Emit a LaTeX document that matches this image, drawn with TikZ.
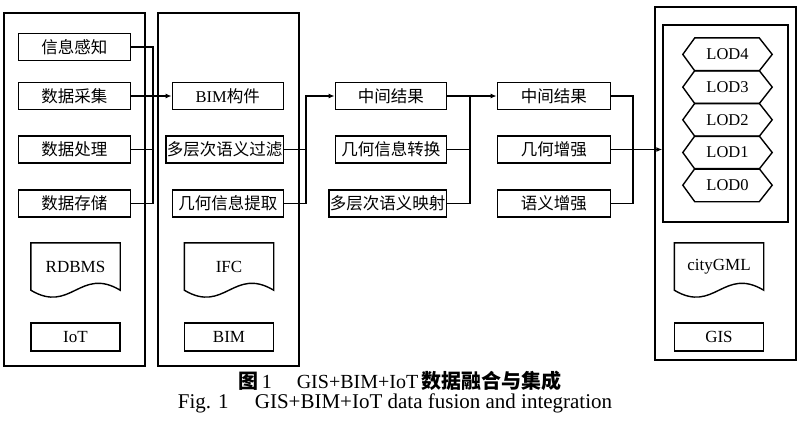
\documentclass[tikz,border=0pt]{standalone}
\usepackage{fontspec}
\setmainfont{Liberation Serif}
\newfontfamily\cjk{Noto Sans CJK SC}
\usepackage{tikz}
\usetikzlibrary{arrows.meta,positioning,calc}

\begin{document}
\begin{tikzpicture}[
    x=1pt,y=-1pt,
    panel/.style  = {draw, line width=1.5pt, inner sep=0pt},
    kuang/.style  = {draw, line width=1.4pt, anchor=east, inner sep=1pt,
                     minimum width=112pt, minimum height=27pt,
                     font=\cjk\fontsize{16.5}{19}\selectfont},
    lkuang/.style = {draw, line width=1.4pt, inner sep=1pt,
                     minimum width=89pt, minimum height=28pt,
                     font=\fontsize{17}{19}\selectfont},
    wendang/.style= {inner sep=1pt, minimum width=89pt, minimum height=47pt,
                     font=\fontsize{17}{19}\selectfont},
    lod/.style    = {inner sep=0pt, minimum width=89pt, minimum height=32.7pt,
                     font=\fontsize{16.5}{19}\selectfont},
    xian/.style   = {line width=1.4pt},
    jian/.style   = {-{Latex[length=6pt,width=5pt]}, line width=1.4pt},
  ]
  \useasboundingbox (0,0) rectangle (800,434);

  % three outer panels
  \node[panel, minimum width=141pt, minimum height=353pt] (iotp) at (74.5,189.5) {};
  \node[panel, minimum width=141pt, minimum height=353pt] (bimp) at (228.5,189.5) {};
  \node[panel, minimum width=141pt, minimum height=353pt] (gisp) at (725.5,183.5) {};
  \node[panel, minimum width=125pt, minimum height=197pt] (gisn) at (725.5,123.5) {};

  % IoT column
  \node[kuang] (xxgz) at (131,47)    {信息感知};
  \node[kuang] (sjcj) at (131,96)    {数据采集};
  \node[kuang] (sjcl) at (131,149.5) {数据处理};
  \node[kuang] (sjcc) at (131,203.5) {数据存储};

  % BIM column
  \node[kuang, minimum width=111pt] (bimgj) at (284,96)    {\textrm{BIM}构件};
  \node[kuang, minimum width=111pt] (ygl)   at (284,149.5) {多层次语义过滤};
  \node[kuang, minimum width=111pt] (jhtq)  at (284,203.5) {几何信息提取};

  % middle column
  \node[kuang, minimum width=111pt] (zjjga) at (447,96)    {中间结果};
  \node[kuang, minimum width=111pt] (jhzh)  at (447,149.5) {几何信息转换};
  \node[kuang, minimum width=111pt] (yys)   at (447,203.5) {多层次语义映射};

  % enhancement column
  \node[kuang, minimum width=113pt] (zjjgb) at (611,96)    {中间结果};
  \node[kuang, minimum width=113pt] (jhzq)  at (611,149.5) {几何增强};
  \node[kuang, minimum width=113pt] (yyzq)  at (611,203.5) {语义增强};

  % levels of detail
  \node[lod] (lod4) at (727.5,54.4)  {LOD4};
  \node[lod] (lod3) at (727.5,87.1)  {LOD3};
  \node[lod] (lod2) at (727.5,119.8) {LOD2};
  \node[lod] (lod1) at (727.5,152.5) {LOD1};
  \node[lod] (lod0) at (727.5,185.2) {LOD0};
  \foreach \n in {lod4,lod3,lod2,lod1,lod0}
    \draw[xian] (\n.west) -- ([xshift=12pt]\n.north west)
      -- ([xshift=-13pt]\n.north east) -- (\n.east)
      -- ([xshift=-13pt]\n.south east) -- ([xshift=12pt]\n.south west) -- cycle;

  % documents and labels
  \node[wendang] (rdbms) at (75.5,266.5) {RDBMS};
  \node[wendang] (ifc)   at (229,266.5)  {IFC};
  \node[wendang] (gml)   at (719,266.5)  {cityGML};
  \foreach \d in {rdbms,ifc,gml}
    \draw[xian] (\d.south west) -- (\d.north west) -- (\d.north east)
      -- (\d.south east) .. controls ($(\d.south east)+(-40,-24)$)
      and ($(\d.south west)+(40,24)$) .. (\d.south west) -- cycle;

  \node[lkuang] (iot) at (75.5,337) {IoT};
  \node[lkuang] (bim) at (229,337)  {BIM};
  \node[lkuang] (gis) at (719,337)  {GIS};

  % buses
  \coordinate (bus1) at (153,0);
  \coordinate (bus2) at (306,0);
  \coordinate (bus3) at (470,0);
  \coordinate (bus4) at (633,0);

  \draw[xian] (xxgz.east) -| (bus1 |- sjcc.east) -- (sjcc.east);
  \draw[xian] (sjcl.east) -- (bus1 |- sjcl.east);
  \draw[jian] (sjcj.east) -- (bimgj.west);

  \draw[xian] (ygl.east) -- (bus2 |- ygl.east);
  \draw[jian] (jhtq.east) -| (bus2 |- zjjga.west) -- (zjjga.west);

  \draw[xian] (yys.east) -| (bus3 |- zjjga.east);
  \draw[xian] (jhzh.east) -- (bus3 |- jhzh.east);
  \draw[jian] (zjjga.east) -- (zjjgb.west);

  \draw[xian] (zjjgb.east) -| (bus4 |- yyzq.east) -- (yyzq.east);
  \draw[jian] (jhzq.east) -- (gisn.west |- jhzq.east);

  % caption
  \node[font=\fontsize{20}{22}\selectfont] (tu) at (400,381)
       {{\cjk\bfseries 图}\,1\quad\ GIS+BIM+IoT\,{\cjk\bfseries 数据融合与集成}};
  \node[font=\fontsize{21}{23}\selectfont] (fig) at (395,403)
       {Fig. 1\quad\ GIS+BIM+IoT data fusion and integration};

\end{tikzpicture}
\end{document}
